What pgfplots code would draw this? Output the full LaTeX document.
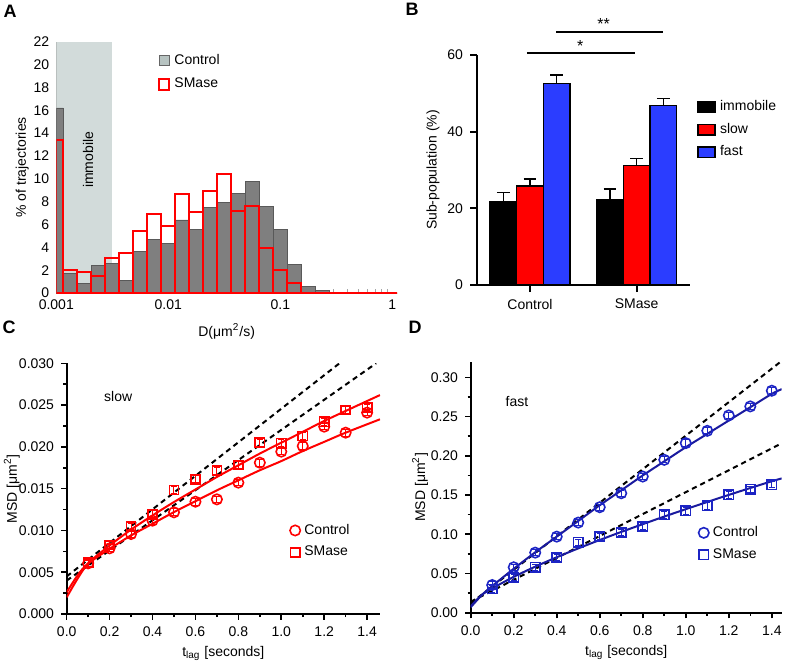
\documentclass[border=0pt]{standalone}
\usepackage{fontspec}
\setmainfont{Liberation Sans}
\usepackage{pgfplots}
\pgfplotsset{compat=1.18}
\definecolor{ctrlgray}{HTML}{7F7F7F}
\definecolor{immob}{HTML}{D2DBDA}
\definecolor{legray}{HTML}{B7C3C1}
\definecolor{bblue}{HTML}{2B3DFF}
\definecolor{mblue}{HTML}{1C24C4}
\definecolor{fblue}{HTML}{1A1A9E}
\pgfplotsset{
 every axis/.append style={font=\fontsize{7}{8.4}\selectfont,
   /pgf/number format/assume math mode=true, scale only axis, anchor=south west,
   tick label style={font=\fontsize{7}{8.4}\selectfont},
   label style={font=\fontsize{7}{8.4}\selectfont}},
}
\begin{document}
\begin{tikzpicture}
\path[use as bounding box] (0,0) rectangle (393.5pt,330.5pt);
\node[font=\fontsize{9}{10}\selectfont\bfseries] at (5pt,325pt) {A};
\node[font=\fontsize{9}{10}\selectfont\bfseries] at (206pt,326pt) {B};
\node[font=\fontsize{9}{10}\selectfont\bfseries] at (4.5pt,167pt) {C};
\node[font=\fontsize{9}{10}\selectfont\bfseries] at (207.5pt,167pt) {D};

% ---------------- A ----------------
\begin{axis}[at={(28.15pt,184pt)}, width=170.35pt, height=125.65pt,
 xmode=log, xmin=0.001, xmax=1.1, ymin=0, ymax=22,
 axis x line*=bottom, axis y line*=left,
 axis line style={black!45, line width=0.4pt},
 xtick={0.001,0.01,0.1,1}, xticklabels={0.001,0.01,0.1,1},
 ytick={0,2,...,22},
 major tick length=0pt, minor tick length=2pt, tick align=inside,
 tick style={black!35, line width=0.4pt},
 xlabel={D(μm\textsuperscript{2}/s)}, ylabel={\% of trajectories},
 ylabel style={at={(axis description cs:-0.10,0.5)}, rotate=0, anchor=center},
 legend style={at={(0.28,0.985)}, anchor=north west, draw=none, fill=none, row sep=1.5pt},
 legend cell align=left,
]
\addplot[fill=immob, draw=none, forget plot] coordinates {(0.001,0) (0.001,22) (0.0031623,22) (0.0031623,0)};
\addplot[ybar interval, fill=ctrlgray, draw=black!65, line width=0.4pt, forget plot] coordinates {
(0.001,16.2) (0.0011548,1.7) (0.0015399,0.8) (0.0020535,2.4) (0.0027384,2.6)
(0.0036517,1.1) (0.0048697,3.6) (0.0064938,4.7) (0.0086596,4.3) (0.011548,6.4)
(0.015399,5.6) (0.020535,7.5) (0.027384,7.9) (0.036517,8.7) (0.048697,9.8)
(0.064938,7.6) (0.086596,5.6) (0.11548,2.5) (0.15399,0.6) (0.20535,0.25)
(0.27384,0) (0.36517,0) (0.48697,0) (0.64938,0) (0.86596,0) (1.1548,0)};
\addplot[ybar interval, fill=none, draw=red, line width=1pt, forget plot] coordinates {
(0.001,13.4) (0.0011548,2.0) (0.0015399,1.8) (0.0020535,1.5) (0.0027384,3.1)
(0.0036517,3.5) (0.0048697,5.4) (0.0064938,6.9) (0.0086596,5.9) (0.011548,8.7)
(0.015399,7.1) (0.020535,8.9) (0.027384,10.4) (0.036517,7.2) (0.048697,7.6)
(0.064938,3.9) (0.086596,2.0) (0.11548,0.9) (0.15399,0) (0.20535,0)
(0.27384,0) (0.36517,0) (0.48697,0) (0.64938,0) (0.86596,0) (1.1548,0)};
\addlegendimage{legend image code/.code={\draw[fill=legray, draw=black!60, line width=0.4pt] (0pt,-2.6pt) rectangle (5.2pt,2.6pt);}}
\addlegendentry{Control}
\addlegendimage{legend image code/.code={\draw[fill=white, draw=red, line width=1pt] (0pt,-2.6pt) rectangle (5.2pt,2.6pt);}}
\addlegendentry{SMase}
\node[rotate=90] at (axis cs:0.00192,11.65) {immobile};
\end{axis}

% ---------------- B ----------------
\begin{axis}[at={(238.5pt,188pt)}, width=106.5pt, height=115pt,
 xmin=-0.497, xmax=1.5, ymin=0, ymax=60,
 axis x line*=bottom, axis y line*=left,
 axis line style={line width=0.9pt},
 xtick={0,1}, xticklabels={Control,SMase}, ytick={0,20,40,60},
 tick align=outside, major tick length=3.5pt, tick style={line width=0.9pt, black},
 ylabel={Sub-population (\%)},
 ylabel style={at={(axis description cs:-0.207,0.5)}, anchor=center},
 clip=false,
 legend style={at={(1.005,0.84)}, anchor=north west, draw=none, fill=none, row sep=0.8pt},
 legend cell align=left,
 bstyle/.style={ybar, bar width=0.25, bar shift=0pt, draw=black, line width=0.8pt,
   legend image code/.code={\draw[##1, draw=black, line width=0.8pt] (0pt,-2.6pt) rectangle (8.5pt,2.6pt);},
   error bars/.cd, y dir=plus, y explicit, error bar style={line width=0.8pt, black},
   error mark options={rotate=90, line width=0.8pt, mark size=3.2pt, black}},
]
\addplot[fill=black, bstyle] coordinates {(-0.25,21.7) +- (0,2.4) (0.75,22.2) +- (0,2.8)};
\addlegendentry{immobile}
\addplot[fill=red, bstyle] coordinates {(0,25.9) +- (0,1.7) (1,31.2) +- (0,1.8)};
\addlegendentry{slow}
\addplot[fill=bblue, bstyle] coordinates {(0.25,52.6) +- (0,2.2) (1.25,46.8) +- (0,1.9)};
\addlegendentry{fast}
\draw[line width=0.8pt] (axis cs:-0.03,60.5) -- (axis cs:0.984,60.5);
\node[font=\fontsize{8}{9}\selectfont] at (axis cs:0.47,62.4) {*};
\draw[line width=0.8pt] (axis cs:0.244,66) -- (axis cs:1.246,66);
\node[font=\fontsize{8}{9}\selectfont] at (axis cs:0.69,68.2) {**};
\end{axis}

% ---------------- C ----------------
\begin{axis}[at={(33.35pt,23.5pt)}, width=156.65pt, height=125.35pt,
 xmin=0, xmax=1.46, ymin=0, ymax=0.030,
 axis x line*=bottom, axis y line*=left,
 axis line style={line width=0.9pt},
 xtick={0,0.2,0.4,0.6,0.8,1.0,1.2,1.4}, minor x tick num=1,
 ytick={0,0.005,0.010,0.015,0.020,0.025,0.030}, minor y tick num=1,
 scaled y ticks=false, scaled x ticks=false,
 xticklabel style={/pgf/number format/.cd, fixed, fixed zerofill, precision=1},
 yticklabel style={/pgf/number format/.cd, fixed, fixed zerofill, precision=3},
 tick align=outside, major tick length=2.8pt, minor tick length=1.6pt,
 tick style={line width=0.8pt, black},
 ylabel={MSD [μm\textsuperscript{2}]}, xlabel={t\textsubscript{lag} [seconds]},
 ylabel style={at={(axis description cs:-0.175,0.5)}, anchor=center},
 xlabel style={yshift=2pt},
 legend style={at={(0.705,0.385)}, anchor=north west, draw=none, fill=none, row sep=0.5pt, inner sep=1pt},
 legend cell align=left,
 mstyle/.style={only marks, line width=0.8pt, forget plot,
   error bars/.cd, y dir=both, y fixed=0.0004, error bar style={line width=0.5pt},
   error mark options={rotate=90, mark size=1.6pt, line width=0.5pt}},
]
\addplot[black, dashed, dash pattern=on 2.6pt off 2pt, line width=1pt, forget plot] coordinates {(0,0.0045) (1.271,0.030)};
\addplot[black, dashed, dash pattern=on 2.6pt off 2pt, line width=1pt, forget plot] coordinates {(0,0.0040) (1.442,0.030)};
\addplot[red, line width=1pt, smooth, forget plot] coordinates {
(0,0.0026) (0.05,0.0046) (0.1,0.0061) (0.2,0.0082) (0.3,0.0101) (0.4,0.0118) (0.5,0.0134)
(0.6,0.0149) (0.7,0.0164) (0.8,0.0178) (0.9,0.0192) (1.0,0.0205) (1.1,0.0218) (1.2,0.0231)
(1.3,0.0243) (1.46,0.0262)};
\addplot[red, line width=1pt, smooth, forget plot] coordinates {
(0,0.0020) (0.05,0.0042) (0.1,0.0060) (0.2,0.0078) (0.3,0.0094) (0.4,0.0108) (0.5,0.0122)
(0.6,0.0135) (0.7,0.0148) (0.8,0.0160) (0.9,0.0172) (1.0,0.0183) (1.1,0.0195) (1.2,0.0206)
(1.3,0.0217) (1.46,0.0233)};
\addplot[red, mark=o, mark size=2.6pt, mstyle] coordinates {
(0.1,0.00606) (0.2,0.00786) (0.3,0.00957) (0.4,0.01117) (0.5,0.01217) (0.6,0.01344)
(0.7,0.01372) (0.8,0.01572) (0.9,0.01811) (1.0,0.01943) (1.1,0.0201) (1.2,0.02242)
(1.3,0.0217) (1.4,0.0241)};
\addplot[red, mark=square, mark size=2.3pt, mstyle] coordinates {
(0.1,0.00614) (0.2,0.00826) (0.3,0.01045) (0.4,0.01193) (0.5,0.01484) (0.6,0.01612)
(0.7,0.01715) (0.8,0.01783) (0.9,0.0205) (1.0,0.02043) (1.1,0.0213) (1.2,0.0230)
(1.3,0.02441) (1.4,0.0247)};
\addlegendimage{only marks, mark=o, mark size=2.6pt, red, line width=0.8pt}
\addlegendentry{Control}
\addlegendimage{only marks, mark=square, mark size=2.3pt, red, line width=0.8pt}
\addlegendentry{SMase}
\node at (axis cs:0.24,0.0260) {slow};
\end{axis}

% ---------------- D ----------------
\begin{axis}[at={(235.35pt,24.15pt)}, width=155.5pt, height=125.5pt,
 xmin=0, xmax=1.446, ymin=0, ymax=0.32,
 axis x line*=bottom, axis y line*=left,
 axis line style={line width=0.9pt},
 xtick={0,0.2,0.4,0.6,0.8,1.0,1.2,1.4}, minor x tick num=1,
 ytick={0,0.05,0.10,0.15,0.20,0.25,0.30}, minor y tick num=1,
 scaled y ticks=false, scaled x ticks=false,
 xticklabel style={/pgf/number format/.cd, fixed, fixed zerofill, precision=1},
 yticklabel style={/pgf/number format/.cd, fixed, fixed zerofill, precision=2},
 tick align=outside, major tick length=2.8pt, minor tick length=1.6pt,
 tick style={line width=0.8pt, black},
 ylabel={MSD [μm\textsuperscript{2}]}, xlabel={t\textsubscript{lag} [seconds]},
 ylabel style={at={(axis description cs:-0.163,0.5)}, anchor=center},
 xlabel style={yshift=2pt},
 legend style={at={(0.725,0.37)}, anchor=north west, draw=none, fill=none, row sep=0.5pt, inner sep=1pt},
 legend cell align=left,
 mstyle/.style={only marks, line width=0.8pt, forget plot,
   error bars/.cd, y dir=both, y fixed=0.004, error bar style={line width=0.5pt},
   error mark options={rotate=90, mark size=1.6pt, line width=0.5pt}},
]
\addplot[black, dashed, dash pattern=on 2.6pt off 2pt, line width=1pt, forget plot] coordinates {(0,0.012) (1.446,0.321)};
\addplot[black, dashed, dash pattern=on 2.6pt off 2pt, line width=1pt, forget plot] coordinates {(0,0.014) (1.446,0.216)};
\addplot[fblue, line width=1pt, smooth, forget plot] coordinates {
(0,0.007) (0.05,0.022) (0.1,0.034) (0.2,0.056) (0.3,0.077) (0.4,0.097) (0.5,0.117)
(0.6,0.137) (0.7,0.156) (0.8,0.175) (0.9,0.193) (1.0,0.211) (1.1,0.228) (1.2,0.245)
(1.3,0.262) (1.4,0.279) (1.446,0.285)};
\addplot[fblue, line width=1pt, smooth, forget plot] coordinates {
(0,0.008) (0.05,0.0224) (0.1,0.0310) (0.2,0.0457) (0.3,0.0587) (0.4,0.0707) (0.5,0.0820)
(0.6,0.0927) (0.7,0.1030) (0.8,0.1129) (0.9,0.1226) (1.0,0.1320) (1.1,0.1412) (1.2,0.1502)
(1.3,0.1590) (1.4,0.1676) (1.446,0.1712)};
\addplot[mblue, mark=o, mark size=2.6pt, mstyle] coordinates {
(0.1,0.0353) (0.2,0.0579) (0.3,0.0766) (0.4,0.097) (0.5,0.1149) (0.6,0.1345)
(0.7,0.1523) (0.8,0.1736) (0.9,0.1949) (1.0,0.2162) (1.1,0.2319) (1.2,0.2515)
(1.3,0.263) (1.4,0.283)};
\addplot[mblue, mark=square, mark size=2.3pt, mstyle] coordinates {
(0.1,0.0302) (0.2,0.0451) (0.3,0.0579) (0.4,0.0706) (0.5,0.0898) (0.6,0.097)
(0.7,0.1021) (0.8,0.1098) (0.9,0.1247) (1.0,0.1298) (1.1,0.1362) (1.2,0.1502)
(1.3,0.1574) (1.4,0.163)};
\addlegendimage{only marks, mark=o, mark size=2.6pt, mblue, line width=0.8pt}
\addlegendentry{Control}
\addlegendimage{only marks, mark=square, mark size=2.3pt, mblue, line width=0.8pt}
\addlegendentry{SMase}
\node at (axis cs:0.215,0.269) {fast};
\end{axis}
\end{tikzpicture}
\end{document}
